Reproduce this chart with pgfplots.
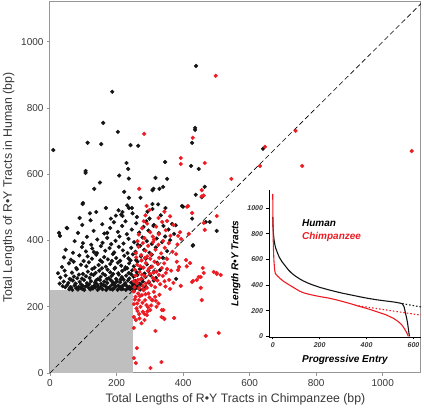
\documentclass[border=0pt]{standalone}
\usepackage{fontspec}
\setmainfont{Liberation Sans}
\usepackage{pgfplots}
\pgfplotsset{compat=1.18}
\definecolor{labelgray}{RGB}{55,55,55}
\definecolor{axgray}{RGB}{150,150,150}
\definecolor{ptred}{RGB}{237,28,36}
\definecolor{ptblack}{RGB}{20,20,20}
\begin{document}
\begin{tikzpicture}
\begin{axis}[
  scale only axis, width=371pt, height=371pt,
  xmin=0, xmax=1115, ymin=0, ymax=1120,
  xtick={0,200,...,1000}, ytick={0,200,...,1000},
  tick align=outside, xtick pos=left, ytick pos=left,
  major tick length=3pt,
  axis line style={draw=axgray, line width=1pt},
  every tick/.style={draw=axgray, line width=0.8pt},
  tick label style={font=\fontsize{10}{12}\selectfont, text=labelgray},
  label style={font=\fontsize{12.3}{14}\selectfont, text=labelgray},
  xlabel={Total Lengths of R•Y Tracts in Chimpanzee (bp)},
  ylabel={Total Lengths of R•Y Tracts in Human (bp)},
  /pgf/number format/assume math mode=true,
  /pgf/number format/1000 sep={},
  clip=true,
]
\addplot[fill=gray!50, draw=none] coordinates {(0,250) (250,250)} \closedcycle;
\addplot[black, line width=0.6pt, dash pattern=on 5pt off 3pt] coordinates {(0,0) (1120,1120)};
% Human-side (black) points
\addplot[only marks, mark=*, mark size=1.9pt, color=ptblack] coordinates {
(10,673) (99,513) (187,849) (160,755) (113,695) (154,691) (204,728) (107,610) (107,604)
(133,556) (150,575) (208,596) (230,634) (235,616) (237,587) (223,547) (237,529) (242,688)
(265,686) (272,529) (308,552) (311,556) (317,589) (329,556) (340,562) (346,637) (352,586)
(427,695) (436,740) (436,734) (439,927) (424,625) (447,616) (465,562) (438,538) (456,531)
(400,502) (308,510) (640,677) (480,456) (501,429) (429,384) (379,284) (367,450) (430,386)
(397,504) (308,495) (299,466) (311,444) (237,498) (246,498) (98,510) (89,468) (139,486)
(172,423) (198,475) (218,486) (218,474) (27,423) (30,414) (50,438) (427,466) (468,456)
(58,253) (67,251) (79,256) (84,252) (97,254) (103,251) (116,257) (121,252) (129,255) (143,251)
(149,256) (158,253) (169,251) (174,257) (188,252) (191,255) (203,251) (209,257) (219,254) (228,251)
(235,256) (241,253) (253,251) (259,257) (271,252) (283,255) (64,258) (92,257) (136,258) (181,254)
(214,253) (247,258) (266,256)
(38,262) (52,266) (61,259) (74,264) (86,260) (94,267) (107,261) (114,265) (126,259) (133,263)
(141,268) (152,260) (161,265) (167,262) (179,259) (186,266) (197,261) (205,264) (213,259) (224,267)
(231,262) (239,260) (250,265) (262,261) (274,266) (289,260) (46,259) (99,263) (145,261) (192,268)
(218,263) (257,268)
(29,270) (41,276) (55,272) (69,279) (77,270) (89,275) (102,281) (111,271) (123,277) (135,273)
(139,280) (154,269) (163,276) (172,272) (183,280) (195,270) (201,277) (211,274) (226,271) (234,279)
(244,273) (256,278) (268,270) (279,276) (297,273) (312,279) (63,282) (118,268) (150,281) (189,274)
(221,282) (249,269)
(31,288) (47,294) (59,284) (72,291) (87,297) (96,285) (108,292) (119,287) (131,296) (144,283)
(152,290) (166,295) (177,286) (185,293) (199,284) (207,297) (216,289) (229,294) (238,285) (251,291)
(263,296) (275,284) (287,290) (302,295) (318,287) (124,298) (171,284) (212,282) (244,298) (82,286)
(24,301) (44,309) (66,303) (81,313) (99,299) (114,306) (127,314) (137,302) (148,309) (159,300)
(173,312) (181,304) (194,315) (205,301) (217,308) (225,313) (237,302) (247,310) (261,304) (270,314)
(284,300) (296,309) (313,305) (331,311) (156,316) (190,299) (232,316)
(36,320) (57,331) (79,317) (93,327) (109,322) (117,334) (134,318) (146,326) (157,335) (168,321)
(181,329) (196,318) (204,333) (214,324) (227,319) (238,331) (252,322) (263,336) (276,318) (291,328)
(304,321) (322,333) (71,336) (186,338) (242,340)
(42,349) (63,342) (88,355) (101,338) (113,352) (126,345) (139,357) (151,340) (163,350) (174,343)
(189,359) (199,347) (211,339) (223,354) (236,346) (249,358) (259,341) (273,352) (288,345) (306,357)
(339,348)
(47,372) (69,363) (96,380) (108,367) (127,376) (141,362) (153,383) (166,369) (179,377) (193,364)
(207,381) (219,370) (233,362) (244,378) (257,366) (271,384) (283,372) (299,363) (318,379) (352,368)
(132,365)
(74,398) (99,392) (111,411) (124,387) (142,403) (158,393) (172,408) (184,389) (197,399) (209,412)
(221,391) (236,405) (253,395) (264,387) (278,409) (291,398) (306,390) (321,406) (337,395) (361,401)
(346,412)
(52,437) (84,423) (97,447) (122,461) (131,429) (157,449) (163,421) (181,438) (192,455) (204,426)
(217,444) (231,419) (246,433) (259,452) (268,424) (281,441) (296,430) (312,447) (327,422) (341,444)
(356,433) (378,446) (373,420) (227,458) (289,458)
(183,466) (206,491) (214,478) (232,506) (248,482) (261,471) (293,487) (333,476) (347,498) (325,509)
(168,498) (120,482)
};
% Chimpanzee-side (red) points
\addplot[only marks, mark=*, mark size=1.9pt, color=ptred] coordinates {
(283,722) (268,556) (290,504) (393,649) (393,631) (429,710) (465,634) (456,552) (462,536)
(456,533) (415,504) (498,897) (738,731) (646,683) (631,625) (758,625) (1087,670) (545,586)
(501,474) (501,302) (513,296) (507,121) (468,112) (409,341) (421,332) (427,275) (441,281)
(447,290) (453,290) (462,302) (453,257) (456,220) (361,254) (373,166) (341,190) (335,169)
(344,163) (317,127) (308,220) (284,178) (252,136) (261,75) (252,45) (258,30) (302,15)
(335,33) (252,169) (385,311) (388,320) (412,502) (427,483) (352,459) (385,414) (394,405)
(417,420) (465,432) (462,453) (379,359) (352,314) (459,317) (492,305) (501,299) (430,278)
(252,246) (257,230) (267,220) (262,210) (276,235) (286,220) (272,200) (279,185) (291,175)
(284,160) (306,220) (316,230) (326,210) (301,190) (336,190) (342,165) (265,240) (296,240)
(255,222) (270,232) (290,205) (260,195) (268,178) (275,150) (295,198) (312,245) (320,200)
(258,160) (281,250) (263,187) (287,238) (299,228) (304,204) (252,208) (278,212) (293,186)
(269,165) (318,218) (329,236)
(254,259) (261,271) (268,256) (273,283) (279,263) (285,292) (291,257) (297,276) (304,265) (309,287)
(316,259) (323,279) (331,268) (339,293) (347,261) (358,281) (371,272) (393,263) (257,294) (264,281)
(276,297) (288,270) (300,299) (313,284) (327,296) (344,277) (252,277) (282,252)
(255,312) (262,327) (269,305) (275,340) (281,318) (288,332) (294,309) (301,345) (307,321) (314,336)
(320,306) (328,348) (336,317) (343,331) (352,344) (364,309) (381,336) (411,322) (259,349) (271,322)
(285,347) (298,316) (311,303) (324,329) (348,302)
(258,362) (266,381) (274,356) (279,392) (287,369) (295,384) (303,358) (310,395) (317,372) (326,387)
(334,361) (345,378) (357,392) (368,366) (383,388) (263,398) (292,352) (340,399)
(267,418) (277,437) (284,407) (292,451) (301,425) (309,412) (319,442) (327,419) (337,456) (348,431)
(362,414) (371,447) (391,425) (282,458) (313,403)
(287,476) (299,492) (326,468) (344,487) (361,473)
};
\end{axis}
\begin{axis}[
  at={(219pt,36pt)}, anchor=south west,
  scale only axis, width=152pt, height=147pt,
  xmin=-16, xmax=632, ymin=-5, ymax=1140,
  axis lines*=left,
  axis line style={line width=0.8pt},
  xtick={0,200,400,600}, ytick={0,200,...,1000},
  tick align=outside, major tick length=2.5pt,
  every tick/.style={black, line width=0.7pt},
  tick label style={font=\bfseries\itshape\fontsize{7}{8}\selectfont, text=labelgray},
  label style={font=\bfseries\itshape\fontsize{10}{12}\selectfont},
  xlabel={Progressive Entry},
  ylabel={Length R•Y Tracts},
  /pgf/number format/assume math mode=true,
  /pgf/number format/1000 sep={},
  clip=false,
]
\addplot[ptblack, line width=1.1pt] coordinates {
(0,930) (1,860) (3,800) (5,760) (8,724) (12,690) (18,660) (28,615) (40,580) (55,545) (68,515)
(82,490) (96,470) (115,447) (130,432) (150,415) (168,402) (200,382) (239,362) (270,348) (300,335)
(340,320) (372,308) (400,298) (443,285) (480,276) (515,268) (540,260) (552,255) (560,230) (566,180)
(571,140) (575,100) (578,60) (581,20) (583,0)
};
\addplot[ptred, line width=1.1pt] coordinates {
(0,1110) (0.5,1000) (1,880) (2,760) (3,680) (5,590) (8,520) (11,490) (20,470) (32,450) (45,430)
(61,411) (80,390) (96,372) (115,352) (130,340) (150,330) (168,322) (200,310) (239,298) (270,285)
(301,270) (340,250) (372,232) (400,218) (443,192) (480,170) (515,140) (535,115) (550,90) (563,55)
(572,25) (578,0)
};
\addplot[ptblack, line width=1.1pt, dash pattern=on 1.5pt off 2pt] coordinates {(552,255) (632,229)};
\addplot[ptred, line width=1.1pt, dash pattern=on 1.5pt off 2pt] coordinates {(350,242) (632,165)};
\node[anchor=west, font=\bfseries\itshape\fontsize{10}{12}\selectfont, text=black] at (axis cs:110,880) {Human};
\node[anchor=west, font=\bfseries\itshape\fontsize{10}{12}\selectfont, text=ptred] at (axis cs:110,775) {Chimpanzee};
\end{axis}
\pgfresetboundingbox
\path (-50pt,-42pt) rectangle (374pt,373pt);
\end{tikzpicture}
\end{document}
